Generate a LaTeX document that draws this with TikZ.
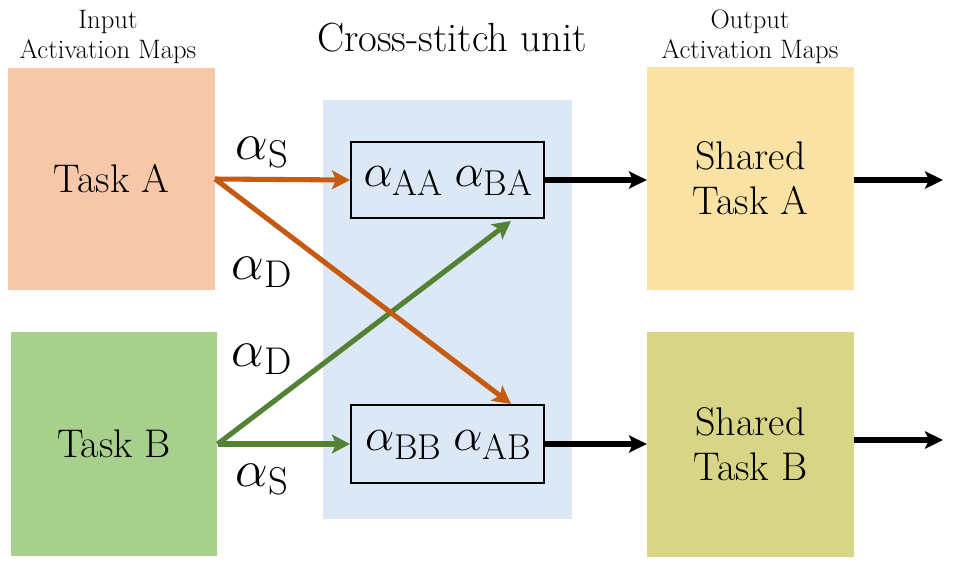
\RequirePackage{fix-cm}
\documentclass[tikz,border=0pt]{standalone}
\usetikzlibrary{arrows.meta,calc}
\newcommand{\myalpha}[4]{\scalebox{#1}{\fontsize{12}{14}\selectfont$\alpha$}\raisebox{-#4}{\fontsize{#2}{#2}\selectfont #3}}
\definecolor{taskAfill}{RGB}{246,199,168}
\definecolor{taskBfill}{RGB}{168,208,141}
\definecolor{outAfill}{RGB}{249,226,163}
\definecolor{outBfill}{RGB}{216,213,135}
\definecolor{unitfill}{RGB}{220,232,245}
\definecolor{orangeline}{RGB}{197,90,17}
\definecolor{greenline}{RGB}{84,130,53}
\tikzset{
  mapbox/.style={rectangle,draw=none,minimum width=155pt,minimum height=167pt,inner sep=0pt,align=center,font=\fontsize{30}{34}\selectfont},
  alphabox/.style={rectangle,draw=black,line width=1.5pt,minimum width=144.75pt,minimum height=57.5pt,inner sep=0pt},
  headlabel/.style={align=center,font=\fontsize{20}{22.5}\selectfont},
  alphalabel/.style={inner sep=0pt},
  flow/.style={line width=4.6pt,-{Stealth[length=13.5pt,width=13pt,inset=3pt]}},
  cross/.style={line width=3.8pt,-{Stealth[length=13.5pt,width=14pt,inset=3pt]}}
}
\begin{document}
\begin{tikzpicture}[x=0.75pt,y=-0.75pt]
\useasboundingbox (0,0) rectangle (956,569);
% cross-stitch unit background
\node[rectangle,fill=unitfill,minimum width=186.75pt,minimum height=314.25pt,inner sep=0pt] (unit) at (447.5,309.5) {};
\node[font=\fontsize{30.5}{34}\selectfont] (unittitle) at (452,38) {Cross-stitch unit};
% input maps
\node[headlabel] (inlabel) at (108,37) {Input\\Activation Maps};
\node[mapbox,fill=taskAfill] (taskA) at (111.5,179) {Task A};
\node[mapbox,fill=taskBfill,minimum height=168pt] (taskB) at (114,444) {Task B};
% output maps
\node[headlabel] (outlabel) at (750,37) {Output\\Activation Maps};
\node[mapbox,fill=outAfill] (outA) at (750.5,178.5) {Shared\\Task A};
\node[mapbox,fill=outBfill,minimum height=168.5pt] (outB) at (750.5,444.5) {Shared\\Task B};
% cross-stitch boxes
\node[alphabox,minimum height=57pt] (boxTop) at (447.5,180) {};
\node[alphabox,minimum height=58.5pt] (boxBot) at (447.5,444) {};
\node[inner sep=0pt] (boxTopText) at (448,181) {\myalpha{2.9}{27}{AA}{7pt}\hspace{9pt}\myalpha{2.9}{27}{BA}{7pt}};
\node[inner sep=0pt] (boxBotText) at (448,445) {\myalpha{2.9}{27}{BB}{7pt}\hspace{9pt}\myalpha{2.9}{27}{AB}{7pt}};
\coordinate (tipTop) at ($(boxTop.south east)+(-34,2)$);
\coordinate (tipBot) at ($(boxBot.north east)+(-34,0)$);
\coordinate (endA) at (943,180);
\coordinate (endB) at (943,440);
% green connectors
\draw[cross,greenline] (taskB.east) -- (boxBot.west);
\draw[cross,greenline] (taskB.east) -- (tipTop);
% orange connectors
\draw[cross,orangeline] (taskA.east) -- (boxTop.west);
\draw[cross,orangeline] (taskA.east) -- (tipBot);
% black connectors
\draw[flow] (boxTop.east) -- (outA.west |- boxTop.east);
\draw[flow] (boxBot.east) -- (outB.west |- boxBot.east);
\draw[flow] (outA.east |- endA) -- (endA);
\draw[flow] (outB.east |- endB) -- (endB);
% alpha labels
\node[alphalabel] (aSA) at (262,153) {\myalpha{3.25}{29}{S}{6pt}};
\node[alphalabel] (aDA) at (262,272) {\myalpha{3.25}{29}{D}{6pt}};
\node[alphalabel] (aDB) at (262,359) {\myalpha{3.25}{29}{D}{6pt}};
\node[alphalabel] (aSB) at (262,480) {\myalpha{3.25}{29}{S}{6pt}};
\end{tikzpicture}
\end{document}
